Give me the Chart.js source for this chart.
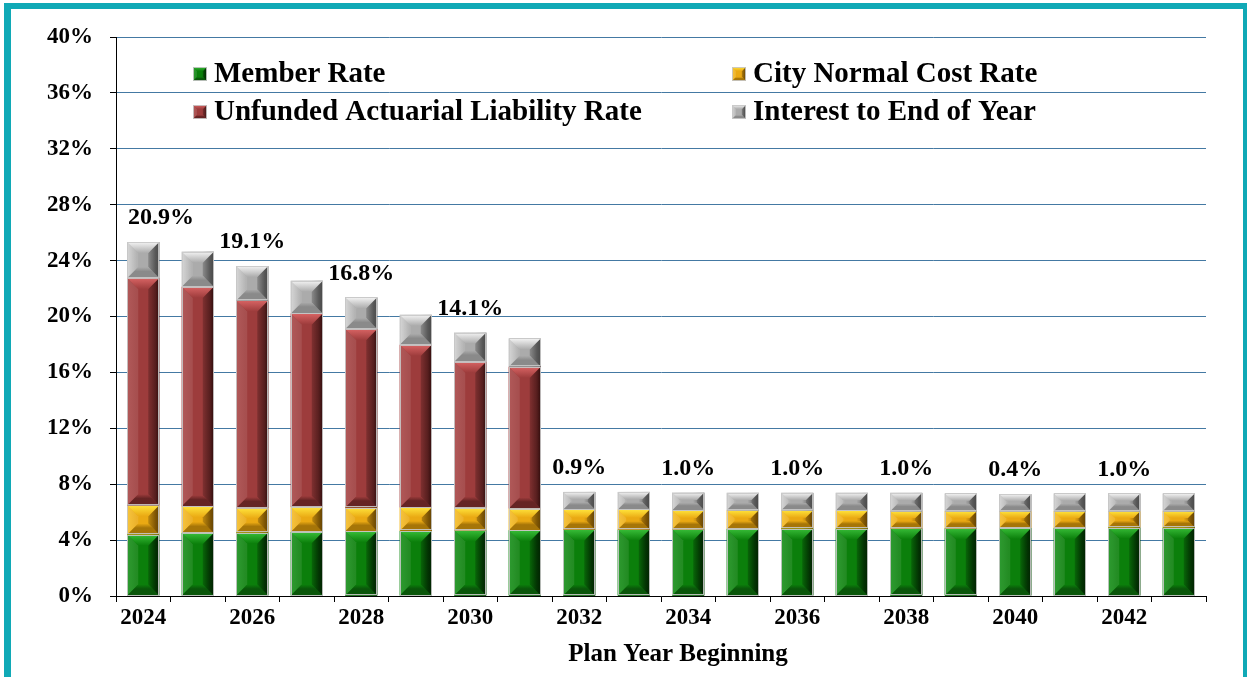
<!DOCTYPE html>
<html>
<head>
<meta charset="utf-8">
<script src="https://cdn.jsdelivr.net/npm/chart.js@4.4.1/dist/chart.umd.min.js"></script>
<style>
  html, body { margin: 0; padding: 0; background: #fff; overflow: hidden; }
  #wrap { position: relative; width: 1247px; height: 677px; }
  #frame { position: absolute; left: 4px; top: 3px; width: 1243px; height: 720px; box-sizing: border-box;
           border-style: solid; border-color: #10a9b6; border-width: 6px 4px 0 7px; }
  #chart { position: absolute; left: 0; top: 0; }
</style>
</head>
<body>
<div id="wrap">
  <div id="frame"></div>
  <canvas id="chart" width="1247" height="677"></canvas>
</div>
<script>
const years = ['2024','2025','2026','2027','2028','2029','2030','2031','2032','2033',
               '2034','2035','2036','2037','2038','2039','2040','2041','2042','2043']
const memberRate  = [4.40, 4.51, 4.54, 4.58, 4.63, 4.66, 4.71, 4.71, 4.76, 4.76,
                     4.78, 4.80, 4.83, 4.83, 4.85, 4.85, 4.87, 4.87, 4.90, 4.90]
const cityNormal  = [2.10, 1.91, 1.75, 1.79, 1.70, 1.68, 1.60, 1.55, 1.43, 1.43,
                     1.36, 1.34, 1.31, 1.29, 1.22, 1.22, 1.20, 1.20, 1.17, 1.17]
const ualRate     = [16.25, 15.71, 14.86, 13.85, 12.77, 11.63, 10.46, 10.14, 0, 0,
                     0, 0, 0, 0, 0, 0, 0, 0, 0, 0]
const interestEoy = [2.58, 2.51, 2.46, 2.34, 2.27, 2.15, 2.08, 2.03, 1.26, 1.26,
                     1.26, 1.24, 1.24, 1.26, 1.31, 1.27, 1.22, 1.27, 1.27, 1.27]
const topLabels   = ['20.9%','', '19.1%','', '16.8%','', '14.1%','', '0.9%','',
                     '1.0%','', '1.0%','', '1.0%','', '0.4%','', '1.0%','']
const yTicks = [0, 4, 8, 12, 16, 20, 24, 28, 32, 36, 40]
const xTitle = 'Plan Year Beginning'

const FONT = "'Liberation Serif', 'Times New Roman', serif"

// colores del bisel: base, cara sup, cara inf, lado izq, lado der
const PAL = {
  green:  { base:'#0b7f0b', hi:'#38bd38', lo:'#0a560a', l:'#17901a', r:'#043f04', edge:'#022a02' },
  yellow: { base:'#eaa913', hi:'#ffe43c', lo:'#a67508', l:'#f6be28', r:'#9c6a06', edge:'#7a5203' },
  red:    { base:'#9d3c3c', hi:'#d86464', lo:'#652424', l:'#a84646', r:'#6a2626', edge:'#3c1010' },
  grey:   { base:'#ababab', hi:'#f4f4f4', lo:'#8a8a8a', l:'#d2d2d2', r:'#6c6c6c', edge:'#5a5a5a' },
}

function face(c, pts, fill) {
  c.beginPath()
  c.moveTo(pts[0][0], pts[0][1])
  for (let i = 1; i < pts.length; i++) c.lineTo(pts[i][0], pts[i][1])
  c.closePath()
  c.fillStyle = fill
  c.fill()
}

function bevelRect(c, l, t, r, b, pal, maxD) {
  const w = r - l, h = b - t
  if (h < 0.5) return
  const d = Math.min(maxD, w / 2.6, h / 2.4)
  const g = c.createLinearGradient(l, 0, r, 0)
  g.addColorStop(0, pal.l); g.addColorStop(0.3, pal.base)
  g.addColorStop(0.65, pal.base); g.addColorStop(0.88, pal.r); g.addColorStop(1, pal.edge)
  c.fillStyle = g
  c.fillRect(l, t, w, h)
  // caras laterales suaves
  face(c, [[l,t],[l+d,t+d],[l+d,b-d],[l,b]], 'rgba(255,255,255,0.10)')
  face(c, [[r,t],[r-d,t+d],[r-d,b-d],[r,b]], 'rgba(0,0,0,0.18)')
  const gt = c.createLinearGradient(0, t, 0, t + d)
  gt.addColorStop(0, pal.hi); gt.addColorStop(1, pal.base)
  face(c, [[l,t],[r,t],[r-d,t+d],[l+d,t+d]], gt)
  const gb = c.createLinearGradient(0, b - d, 0, b)
  gb.addColorStop(0, pal.base); gb.addColorStop(0.4, pal.lo); gb.addColorStop(1, pal.lo)
  face(c, [[l,b],[r,b],[r-d,b-d],[l+d,b-d]], gb)
  c.strokeStyle = 'rgba(200,200,200,0.9)'
  c.lineWidth = 1
  c.strokeRect(Math.round(l) + 0.5, Math.round(t) + 0.5, Math.round(w) - 1, Math.round(h) - 1)
}

const bevelBars = {
  id: 'bevelBars',
  afterDatasetsDraw(chart) {
    const c = chart.ctx
    c.save()
    chart.data.datasets.forEach((ds, di) => {
      const meta = chart.getDatasetMeta(di)
      meta.data.forEach(el => {
        const p = el.getProps(['x', 'y', 'base', 'width'], true)
        bevelRect(c, p.x - p.width / 2, Math.min(p.y, p.base), p.x + p.width / 2, Math.max(p.y, p.base), PAL[ds.pal], 11)
      })
    })
    c.restore()
  }
}

const topText = {
  id: 'topText',
  afterDraw(chart) {
    const c = chart.ctx, area = chart.chartArea
    c.save()
    c.font = `bold 24px ${FONT}`
    c.fillStyle = '#000'
    c.textBaseline = 'middle'
    c.textAlign = 'left'
    topLabels.forEach((txt, i) => {
      if (!txt) return
      let top = Infinity, x = 0
      chart.data.datasets.forEach((ds, di) => {
        const el = chart.getDatasetMeta(di).data[i]
        x = el.x
        if (ds.data[i] > 0) top = Math.min(top, el.y)
      })
      const w = c.measureText(txt).width
      const left = Math.max(x - w / 2, area.left + 12)
      c.fillText(txt, left, top - 24)
    })
    // título del eje x
    c.font = `bold 25px ${FONT}`
    c.textAlign = 'center'
    c.fillText(xTitle, (area.left + area.right) / 2 + 17, area.bottom + 59)
    c.restore()
  }
}

const cornerLegend = {
  id: 'cornerLegend',
  afterDraw(chart) {
    const c = chart.ctx, area = chart.chartArea
    const cols = [area.left + 77, area.left + 616]
    const rows = [area.top + 37, area.top + 75]
    c.save()
    c.font = `bold 29px ${FONT}`
    c.textBaseline = 'middle'
    chart.data.datasets.forEach((ds, i) => {
      const x = cols[i % 2], y = rows[Math.floor(i / 2)]
      bevelRect(c, x, y - 7, x + 14, y + 7, PAL[ds.pal], 4)
      c.fillStyle = '#000'
      c.fillText(ds.label, x + 21, y + 1)
    })
    c.restore()
  }
}

const datasets = [
  { label: 'Member Rate',                       data: memberRate,  pal: 'green'  },
  { label: 'City Normal Cost Rate',             data: cityNormal,  pal: 'yellow' },
  { label: 'Unfunded Actuarial Liability Rate', data: ualRate,     pal: 'red'    },
  { label: 'Interest to End of Year',           data: interestEoy, pal: 'grey'   },
].map(d => ({ ...d, backgroundColor: PAL[d.pal].base, borderWidth: 0,
              barPercentage: 0.587, categoryPercentage: 1 }))

new Chart(document.getElementById('chart'), {
  type: 'bar',
  data: { labels: years, datasets },
  plugins: [bevelBars, topText, cornerLegend],
  options: {
    responsive: false,
    animation: false,
    layout: { padding: { top: 37, right: 41, left: 0, bottom: 0 } },
    plugins: { legend: { display: false }, tooltip: { enabled: false } },
    scales: {
      x: {
        stacked: true,
        grid: { offset: true, drawOnChartArea: false, tickLength: 6, tickColor: '#000' },
        border: { color: '#000' },
        ticks: {
          autoSkip: false, maxRotation: 0, color: '#000', padding: 2,
          font: { family: FONT, size: 23, weight: 'bold' },
          callback: (v, i) => i % 2 === 0 ? years[i] : ''
        },
        afterFit: s => { s.height = 81 }
      },
      y: {
        stacked: true, min: 0, max: 40,
        afterBuildTicks: s => { s.ticks = yTicks.map(v => ({ value: v })) },
        grid: { color: '#4479a3', tickColor: '#000', tickLength: 6 },
        border: { color: '#000' },
        ticks: { color: '#000', padding: 17, font: { family: FONT, size: 23, weight: 'bold' },
                 callback: v => v + '%' },
        afterFit: s => { s.width = 116 }
      }
    }
  }
})
</script>
</body>
</html>
